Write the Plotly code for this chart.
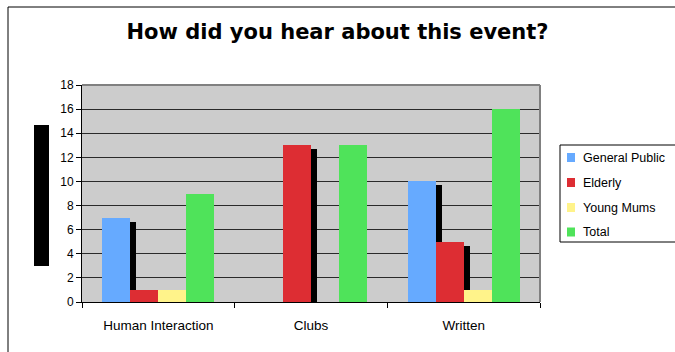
import plotly.graph_objects as go

categories = ["Human Interaction", "Clubs", "Written"]
series_names = ["General Public", "Elderly", "Young Mums", "Total"]
general_public = [7, 0, 10]
elderly = [1, 13, 5]
young_mums = [1, 0, 1]
total = [9, 13, 16]
y_ticks = [0, 2, 4, 6, 8, 10, 12, 14, 16, 18]

colors = ["#66AAFF", "#DD2D33", "#FFF38A", "#4FE35A"]
values = [general_public, elderly, young_mums, total]
shadow_series = [True, True, False, False]

W, H = 675, 352
L, R, T, B = 82, 540, 85, 302
xpos = list(range(len(categories)))
bw = 28 / ((R - L) / 3)
offsets = [-2 * bw, -bw, 0, bw]
sh_dx = 6 / ((R - L) / 3)
sh_dy = 4 / ((B - T) / 18)

fig = go.Figure()
for name, vals, col, off, sh in zip(series_names, values, colors, offsets, shadow_series):
    if sh:
        fig.add_trace(go.Bar(
            x=xpos, y=[max(v - sh_dy, 0) if v > 0 else 0 for v in vals],
            offset=off + sh_dx, width=bw, marker=dict(color="black", line=dict(width=0)),
            showlegend=False, hoverinfo="skip"))
for name, vals, col, off in zip(series_names, values, colors, offsets):
    fig.add_trace(go.Bar(
        x=xpos, y=vals, name=name, offset=off, width=bw,
        marker=dict(color=col, line=dict(width=0)), showlegend=False))

def px(x):
    return (x - L) / (R - L)

def py(y):
    return (B - y) / (B - T)

shapes = [
    dict(type="rect", xref="paper", yref="paper", x0=px(8), x1=px(690), y0=py(7), y1=py(370),
         line=dict(color="black", width=1), fillcolor="rgba(0,0,0,0)", layer="below"),
    dict(type="line", xref="paper", yref="paper", x0=0, x1=1, y0=1, y1=1,
         line=dict(color="#808080", width=2)),
    dict(type="line", xref="paper", yref="paper", x0=1, x1=1, y0=0, y1=1,
         line=dict(color="#808080", width=2)),
    dict(type="rect", xref="paper", yref="paper", x0=px(34), x1=px(49), y0=py(266), y1=py(125),
         line=dict(width=0), fillcolor="black"),
    # legend box
    dict(type="rect", xref="paper", yref="paper", x0=px(560), x1=px(690), y0=py(242), y1=py(145),
         line=dict(color="black", width=1), fillcolor="white"),
]
annotations = []
leg_y = [157.5, 182.5, 207.5, 232]
for name, col, yy in zip(series_names, colors, leg_y):
    shapes.append(dict(type="rect", xref="paper", yref="paper", x0=px(567), x1=px(575),
                       y0=py(yy + 4.5), y1=py(yy - 4.5), line=dict(width=0), fillcolor=col))
    annotations.append(dict(x=px(581), y=py(yy), xref="paper", yref="paper", text=name,
                            showarrow=False, xanchor="left", yanchor="middle",
                            font=dict(family="Liberation Sans, Arial", size=12.5, color="black")))

fig.update_layout(
    width=W, height=H,
    margin=dict(l=L, r=W - R, t=T, b=H - B, autoexpand=False),
    paper_bgcolor="white", plot_bgcolor="#CCCCCC",
    barmode="overlay", bargap=0,
    font=dict(family="Liberation Sans, Arial", size=11.5, color="black"),
    title=dict(text="<b>How did you hear about this event?</b>", x=0.5, xref="container",
               xanchor="center", y=1 - 32 / H, yref="container", yanchor="middle",
               font=dict(family="DejaVu Sans", size=21, color="black")),
    xaxis=dict(range=[-0.5, 2.5], tickvals=xpos, ticktext=categories, ticks="",
               showgrid=False, zeroline=False, showline=True, linecolor="black", linewidth=1,
               ticklabelstandoff=11, tickfont=dict(size=13.5),
               minor=dict(tick0=0.5, dtick=1, ticks="outside", ticklen=5, tickcolor="black", showgrid=False)),
    yaxis=dict(range=[0, 18], tickvals=y_ticks, ticks="outside", ticklen=5, tickcolor="black",
               showgrid=True, gridcolor="#2a2a2a", gridwidth=1, zeroline=False,
               showline=True, linecolor="black", linewidth=1, tickfont=dict(size=12)),
    showlegend=False,
    shapes=shapes,
    annotations=annotations,
)

fig.write_html("out.html")
